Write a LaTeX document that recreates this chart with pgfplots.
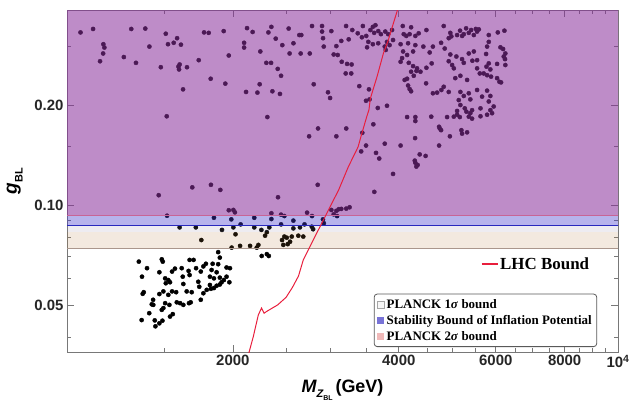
\documentclass[border=0pt]{standalone}
\usepackage{fontspec}
\setmainfont{Liberation Serif}
\setsansfont{Liberation Sans}
\usepackage{pgfplots}
\pgfplotsset{compat=1.18}
\usepackage{pgfplotstable}

\definecolor{purpfill}{RGB}{137,46,155}
\definecolor{bluefill}{RGB}{67,55,205}
\definecolor{grayfill}{RGB}{140,130,160}
\definecolor{beigefill}{RGB}{180,120,55}
\definecolor{framegray}{RGB}{120,120,120}
\definecolor{lhcred}{RGB}{232,30,60}
\definecolor{blueline}{RGB}{40,40,190}
\definecolor{purpedge}{RGB}{200,100,150}
\definecolor{beigeedge}{RGB}{170,150,140}

\pgfplotstableread{
x y
1058 0.331
1115 0.339
1308 0.339
1387 0.340
1511 0.328
1164 0.305
1169 0.298
1163 0.286
1148 0.271
1268 0.279
1334 0.268
1411 0.300
1525 0.305
1562 0.308
1584 0.318
1610 0.304
1480 0.260
1593 0.261
1597 0.256
1601 0.265
1651 0.260
1734 0.273
1624 0.223
1773 0.331
1808 0.330
1925 0.334
1823 0.240
1966 0.282
1938 0.232
2122 0.341
2172 0.332
2096 0.308
2096 0.298
2243 0.290
2349 0.344
2320 0.331
2392 0.317
2459 0.303
2300 0.268
2346 0.268
2412 0.257
2446 0.245
2237 0.231
2113 0.219
2216 0.218
2359 0.220
2435 0.216
1517 0.185
2310 0.184
1467 0.107
1688 0.113
1825 0.115
1898 0.111
2415 0.1055
1966 0.0964
2004 0.0966
2017 0.0950
1519 0.0928
2349 0.0944
2446 0.0935
2480 0.0926
1848 0.0915
1987 0.0905
2187 0.0915
2349 0.0907
2575 0.0897
2698 0.0874
1601 0.0856
1713 0.0856
2004 0.0856
2066 0.0874
2187 0.0856
2253 0.0841
2329 0.0856
2446 0.0874
2575 0.0850
2647 0.0856
1911 0.0841
2022 0.0816
2288 0.0808
2305 0.0828
1753 0.0784
2480 0.0803
2505 0.0797
2456 0.0784
2558 0.0803
2629 0.0808
2684 0.0803
2469 0.0758
2515 0.0762
2540 0.0775
1990 0.0744
2061 0.0753
2149 0.0753
2210 0.0744
2225 0.0758
1881 0.0721
1894 0.0694
2256 0.0702
2305 0.0711
2324 0.0702
1350 0.0675
1486 0.0686
1492 0.0675
1669 0.0683
1697 0.0683
1397 0.0645
1471 0.0627
1551 0.0630
1570 0.0643
1615 0.0645
1622 0.0608
1662 0.0633
1669 0.0615
1787 0.0665
1838 0.0665
1881 0.0663
1715 0.0645
1749 0.0630
1768 0.0653
1948 0.0648
1976 0.0645
1368 0.0608
1507 0.0601
1527 0.0594
1538 0.0585
1511 0.0581
1817 0.0608
1830 0.0637
1869 0.0627
1894 0.0604
1926 0.0594
1948 0.0608
1971 0.0585
1848 0.0601
1626 0.0578
1731 0.0587
1738 0.0567
1378 0.0546
1372 0.0540
1471 0.0539
1496 0.0549
1578 0.0546
1684 0.0546
1768 0.0542
1793 0.0555
1825 0.0559
1869 0.0571
1894 0.0576
1908 0.0585
1433 0.0518
1527 0.0536
1551 0.0549
1649 0.0549
1817 0.0574
1848 0.0562
1425 0.0502
1434 0.0500
1507 0.0506
1534 0.0500
1582 0.0509
1604 0.0506
1626 0.0500
1665 0.0506
1677 0.0509
1749 0.0518
1486 0.0483
1496 0.0489
1410 0.0472
1366 0.0450
1443 0.0449
1471 0.0440
1490 0.0448
1538 0.0461
1556 0.0469
1447 0.0431
2781 0.0860
2797 0.0845
2914 0.0905
2925 0.0881
2727 0.0948
2784 0.0926
3018 0.0966
3082 0.0960
3113 0.0971
3146 0.0973
3212 0.0975
3257 0.0984
3048 0.0937
3091 0.0926
2750 0.161
2855 0.170
3082 0.161
3212 0.170
3435 0.165
3597 0.175
3489 0.151
3419 0.145
3638 0.1435
3687 0.138
3773 0.153
4031 0.151
4142 0.184
4287 0.184
4287 0.179
4283 0.159
4366 0.142
4475 0.1405
4277 0.136
4287 0.134
4329 0.132
4305 0.1305
3906 0.124
4734 0.172
4774 0.168
4748 0.170
4734 0.151
4953 0.161
4895 0.184
5162 0.184
5197 0.168
5212 0.164
5322 0.1655
5104 0.187
5395 0.189
5434 0.182
5629 0.185
5786 0.187
5908 0.189
2851 0.115
3612 0.1095
2525 0.340
2640 0.325
2662 0.325
2576 0.307
2535 0.286
2655 0.286
2758 0.286
2784 0.346
2903 0.346
2903 0.333
2915 0.318
2924 0.300
3018 0.334
3082 0.301
3048 0.284
3100 0.283
3146 0.312
3210 0.346
3245 0.3155
3152 0.270
3223 0.266
3285 0.265
3205 0.249
3280 0.249
3294 0.3365
3370 0.329
3443 0.346
3429 0.320
3492 0.323
3504 0.2985
3553 0.3365
3590 0.344
3629 0.348
3609 0.330
3672 0.334
3713 0.327
3523 0.310
3590 0.305
3672 0.307
3781 0.333
3828 0.327
3890 0.3365
3809 0.310
3850 0.303
3906 0.314
3773 0.300
3789 0.293
2804 0.231
2976 0.2185
3002 0.210
3392 0.228
3532 0.223
3489 0.206
3541 0.208
3665 0.196
3809 0.199
4068 0.346
4212 0.343
4084 0.327
4128 0.323
4186 0.327
4287 0.323
4348 0.329
4490 0.3365
4031 0.305
4159 0.307
4287 0.303
4433 0.300
4614 0.300
4073 0.290
4142 0.283
4247 0.290
4031 0.270
4056 0.277
4171 0.268
4247 0.262
4318 0.258
4212 0.252
4307 0.2533
4380 0.252
4490 0.259
4100 0.238
4142 0.240
4259 0.245
4159 0.229
4186 0.2235
4212 0.220
4484 0.2325
4552 0.288
4590 0.267
4774 0.308
4827 0.346
4962 0.330
4983 0.322
4929 0.318
5104 0.325
5168 0.335
5212 0.323
5249 0.327
5300 0.3405
5360 0.330
5412 0.3365
5474 0.325
5520 0.339
5590 0.338
5549 0.333
4847 0.296
4962 0.284
5089 0.280
4929 0.271
4999 0.264
5035 0.258
5212 0.275
5249 0.268
5360 0.286
5474 0.290
5441 0.272
5549 0.273
5827 0.325
5827 0.310
5786 0.300
5762 0.285
6051 0.331
6221 0.335
6118 0.2985
6186 0.295
6245 0.286
6203 0.280
6236 0.275
6245 0.264
5827 0.267
5771 0.261
5866 0.256
6033 0.266
5705 0.249
5786 0.246
5883 0.2435
6033 0.241
6092 0.235
6134 0.234
5066 0.241
5175 0.245
5322 0.238
5549 0.258
5612 0.249
4827 0.227
4929 0.219
5175 0.219
5249 0.213
5360 0.217
5395 0.208
5549 0.222
5666 0.212
5786 0.221
5866 0.213
5827 0.205
4614 0.217
4695 0.218
4780 0.222
5140 0.207
5175 0.200
5271 0.1955
5307 0.191
5434 0.193
5629 0.1955
5866 0.193
5948 0.198
5104 0.192
5035 0.1845
4582 0.1845
5360 0.1845
}\scatterdata

\pgfplotstableread{
x y
2125 0.0345
2178 0.0401
2224 0.0466
2254 0.0489
2279 0.0472
2304 0.0478
2412 0.0500
2498 0.0527
2566 0.0565
2631 0.0611
2684 0.0683
2818 0.0803
2920 0.0901
2982 0.0966
3112 0.1110
3240 0.1303
3307 0.1396
3375 0.1496
3422 0.1625
3499 0.1845
3531 0.1932
3553 0.2096
3653 0.2434
3753 0.2866
3830 0.3140
3910 0.3519
3979 0.3867
4029 0.4000
}\lhcdata

\begin{document}
\begin{tikzpicture}
\begin{axis}[name=main,
  scale only axis, width=551bp, height=342bp,
  xmode=log, ymode=log,
  xmin=1000, xmax=10000, ymin=0.03606, ymax=0.3867,
  clip mode=individual,
  axis line style={framegray, line width=0.8pt},
  tick align=inside, xtick pos=both, ytick pos=both,
  xtick={2000,4000,6000,8000,10000},
  xticklabels={2000,4000,6000,8000,10\textsuperscript{4}},
  minor xtick={1500,2500,3000,3500,4500,5000,5500,6500,7000,7500,8500,9000,9500},
  ytick={0.05,0.1,0.2},
  yticklabels={0.05,0.10,0.20},
  minor ytick={0.04,0.06,0.07,0.08,0.09,0.15,0.3},
  major tick length=7bp, minor tick length=4bp,
  every tick/.style={framegray, line width=0.7pt},
  /pgf/number format/assume math mode=true,
  tick label style={font=\sffamily\bfseries\fontsize{15}{15}\selectfont, text=black!85},
  every axis x label/.style={at={(axis description cs:0.5,-0.111)}, anchor=center},
  every axis y label/.style={at={(axis description cs:-0.095,0.5)}, rotate=90, anchor=center},
  xlabel={\sffamily\bfseries\fontsize{18}{18}\selectfont\itshape M\raisebox{-0.3em}{\fontsize{11}{11}\selectfont Z\raisebox{-0.3em}{\fontsize{7}{7}\selectfont\upshape BL}}\upshape\,(GeV)},
  ylabel={\sffamily\bfseries\fontsize{19}{19}\selectfont\itshape g\raisebox{-0.3em}{\fontsize{11}{11}\selectfont\upshape BL}},
  legend style={at={(0.962,0.0146)}, anchor=south east, draw=black!65,
    rounded corners=3bp, line width=0.8pt, fill=white,
    font=\bfseries\fontsize{13}{14}\selectfont, row sep=1.5bp, inner sep=3bp},
  legend cell align=left,
]
\addplot[only marks, mark=*, mark size=2.1bp, black, forget plot] table[x=x,y=y]{\scatterdata};
\addplot[forget plot, draw=none, fill=purpfill, fill opacity=0.55] coordinates {(900,0.0933) (11000,0.0933) (11000,0.5) (900,0.5)} -- cycle;
\addplot[forget plot, draw=none, fill=bluefill, fill opacity=0.38] coordinates {(900,0.0864) (11000,0.0864) (11000,0.0933) (900,0.0933)} -- cycle;
\addplot[forget plot, draw=none, fill=grayfill, fill opacity=0.15] coordinates {(900,0.0829) (11000,0.0829) (11000,0.0864) (900,0.0864)} -- cycle;
\addplot[forget plot, draw=none, fill=beigefill, fill opacity=0.16] coordinates {(900,0.0742) (11000,0.0742) (11000,0.0829) (900,0.0829)} -- cycle;
\addplot[forget plot, purpedge, line width=0.6pt] coordinates {(900,0.0933) (11000,0.0933)};
\addplot[forget plot, beigeedge, line width=0.6pt] coordinates {(900,0.0742) (11000,0.0742)};
\addplot[forget plot, blueline, line width=1.3pt] coordinates {(900,0.0866) (11000,0.0866)};
\addlegendimage{legend image code/.code={\draw[sharp corners, draw=black!35, fill=black!3, line width=0.4pt] (0bp,-3.5bp) rectangle (7bp,3.5bp);}}
\addlegendentry{PLANCK 1\textit{σ} bound}
\addlegendimage{legend image code/.code={\draw[sharp corners, draw=none, fill={rgb,255:red,120;green,115;blue,215}] (0bp,-3.5bp) rectangle (7bp,3.5bp);}}
\addlegendentry{Stability Bound of Inflation Potential}
\addlegendimage{legend image code/.code={\draw[sharp corners, draw=none, fill={rgb,255:red,240;green,185;blue,185}] (0bp,-3.5bp) rectangle (7bp,3.5bp);}}
\addlegendentry{PLANCK 2\textit{σ} bound}
\end{axis}
\begin{axis}[
  scale only axis, width=551bp, height=342bp,
  xmode=log, ymode=log,
  xmin=1000, xmax=10000, ymin=0.03606, ymax=0.3867,
  hide axis,
  legend style={at={(0.957,0.257)}, anchor=east, draw=none, fill=none,
    font=\bfseries\fontsize{17}{17}\selectfont},
  legend image code/.code={\draw[#1, line width=1.3pt] (-4bp,0bp) -- (12bp,0bp);},
]
\addplot[lhcred, line width=1pt] table[x=x,y=y]{\lhcdata};
\addlegendentry{LHC Bound}
\end{axis}
\pgfresetboundingbox
\path ([xshift=-67bp,yshift=-50bp]main.south west) rectangle ([xshift=11bp,yshift=10bp]main.north east);
\end{tikzpicture}
\end{document}
